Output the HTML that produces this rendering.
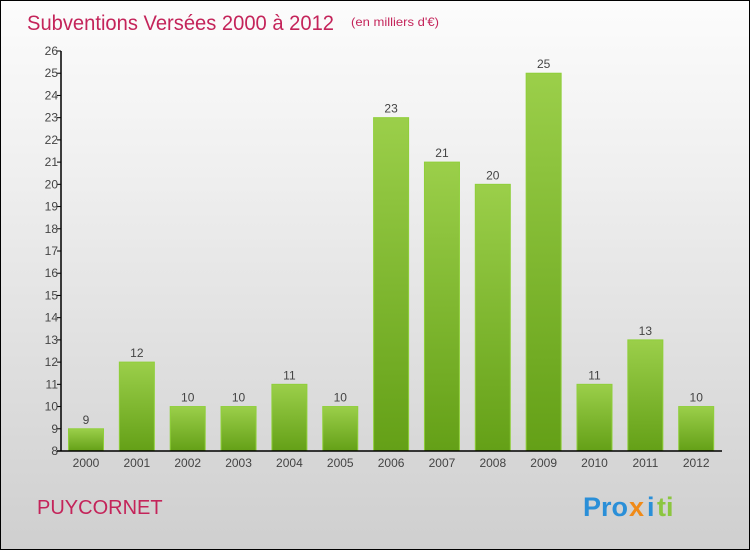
<!DOCTYPE html>
<html><head><meta charset="utf-8"><style>
html,body{margin:0;padding:0;}
body{width:750px;height:550px;overflow:hidden;}
#wrap{position:relative;width:748px;height:548px;border:1px solid #000;background:linear-gradient(#fcfcfc,#f2f2f2 25%,#cfcfcf);font-family:"Liberation Sans",sans-serif;}
</style></head><body>
<div id="wrap">
<svg id="chart" width="748" height="548">
<defs><linearGradient id="g" x1="0" y1="0" x2="0" y2="1"><stop offset="0" stop-color="#9bcf4a"/><stop offset="1" stop-color="#64a017"/></linearGradient></defs>
<text x="26" y="29" font-size="21" fill="#c4245a" textLength="307" lengthAdjust="spacingAndGlyphs">Subventions Versées 2000 à 2012</text>
<text x="350" y="25" font-size="12" fill="#c4245a" textLength="88" lengthAdjust="spacingAndGlyphs">(en milliers d'€)</text>
<text x="36" y="513" font-size="20" fill="#c4245a">PUYCORNET</text>
<g font-size="27" font-weight="bold">
<text x="582" y="515" fill="#2a8fd8">Pro</text><text x="628" y="515" fill="#f08a18">x</text><text x="646" y="515" fill="#2a8fd8">i</text><text x="656" y="515" fill="#8cc63f">ti</text>
</g>
<g id="plot"></g>
</svg>
</div>
<script>
const categories=["2000","2001","2002","2003","2004","2005","2006","2007","2008","2009","2010","2011","2012"];
const values=[9,12,10,10,11,10,23,21,20,25,11,13,10];
const yTicks=[8,9,10,11,12,13,14,15,16,17,18,19,20,21,22,23,24,25,26];
const yMin=8,yMax=26,plotTop=50,plotBottom=450,axisX=60,x0=85,step=50.85,bw=35;
const NS="http://www.w3.org/2000/svg";
const plot=document.getElementById('plot');
function y(v){return plotBottom-(v-yMin)/(yMax-yMin)*(plotBottom-plotTop);}
function x(i){return x0+i*step;}
function mk(t,a,txt){const e=document.createElementNS(NS,t);for(const k in a)e.setAttribute(k,a[k]);if(txt!==undefined)e.textContent=txt;plot.appendChild(e);return e;}
values.forEach((v,i)=>{
 const r=mk('rect',{x:x(i)-bw/2,y:y(v),width:bw,height:plotBottom-y(v),fill:'url(#g)',stroke:'#8fcf3a','stroke-width':1});
 
 
 const t=mk('text',{x:x(i),y:y(v)-5,'text-anchor':'middle','font-size':12,fill:'#444'},v);
 
 
 const c=mk('text',{x:x(i),y:plotBottom+16,'text-anchor':'middle','font-size':12,fill:'#444'},categories[i]);
 
 
});
yTicks.forEach(v=>{
 const l=mk('line',{x1:axisX-4,x2:axisX,y1:y(v),y2:y(v),stroke:'#000'});
 
 
 const t=mk('text',{x:axisX-3,y:y(v)+4,'text-anchor':'end','font-size':12,fill:'#444'},v);
 
 
});
const ya=mk('line',{x1:axisX,x2:axisX,y1:plotTop,y2:plotBottom,stroke:'#000','stroke-width':1.5});


const xa=mk('line',{x1:axisX-4,x2:721,y1:plotBottom,y2:plotBottom,stroke:'#000','stroke-width':1.5});


</script>
</body></html>
